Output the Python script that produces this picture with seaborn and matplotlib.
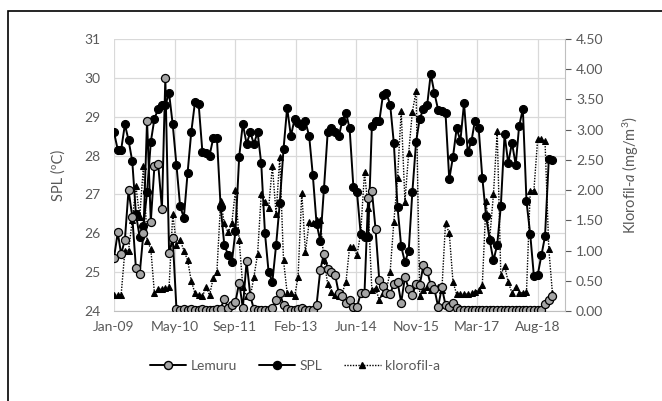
import matplotlib
matplotlib.use("Agg")
import matplotlib.pyplot as plt
import matplotlib.dates as mdates
from matplotlib.lines import Line2D
from matplotlib.patches import Rectangle
import pandas as pd
import seaborn as sns

# monthly observations, Jan 2009 - Dec 2018
months = pd.date_range("2009-01-01", periods=120, freq="MS")

spl = [28.6, 28.15, 28.15, 28.8, 28.4, 27.85, 26.5, 25.9, 26.2, 27.05,
       28.35, 28.95, 29.2, 29.3, 29.3, 29.6, 28.8, 27.75, 26.7, 26.4,
       27.56, 28.6, 29.38, 29.33, 28.1, 28.07, 28.0, 28.45, 28.45, 26.67,
       25.7, 25.45, 25.25, 26.05, 27.97, 28.82, 28.3, 28.6, 28.3, 28.6,
       27.8, 26.0, 25.0, 24.75, 25.7, 26.77, 28.16, 29.23, 28.5, 28.95,
       28.84, 28.75, 28.88, 28.5, 27.5, 26.25, 25.8, 27.14, 28.6, 28.72,
       28.6, 28.5, 28.88, 29.1, 28.7, 27.2, 27.05, 25.97, 25.9, 25.9,
       28.77, 28.88, 28.88, 29.57, 29.6, 29.31, 28.33, 26.67, 25.66, 25.26,
       25.54, 27.05, 28.35, 28.95, 29.2, 29.31, 30.1, 29.6, 29.18, 29.14,
       29.1, 27.39, 27.97, 28.7, 28.38, 29.35, 28.08, 28.38, 28.9, 28.7,
       27.43, 26.45, 25.82, 25.3, 25.7, 26.7, 28.55, 27.8, 28.33, 27.76,
       28.76, 29.2, 26.82, 25.97, 24.9, 24.92, 25.43, 25.92, 27.9, 27.88]

klorofil = [0.27, 0.27, 0.27, 1.0, 1.0, 1.5, 2.07, 1.55, 2.4, 1.16,
            1.03, 0.29, 0.36, 0.36, 0.38, 0.4, 1.6, 1.1, 1.18, 1.0,
            0.84, 0.5, 0.29, 0.26, 0.24, 0.4, 0.26, 0.55, 0.65, 1.82,
            1.45, 1.3, 1.45, 2.0, 1.17, 0.4, 0.24, 0.24, 0.56, 0.94,
            1.93, 1.8, 1.7, 2.4, 1.6, 2.55, 0.84, 0.3, 0.3, 0.25,
            0.56, 1.96, 0.97, 1.47, 1.45, 1.5, 1.5, 0.84, 0.45, 0.32,
            0.26, 0.24, 0.3, 0.48, 1.06, 1.06, 0.92, 1.3, 2.3, 1.7,
            0.34, 0.38, 0.18, 0.3, 0.35, 0.65, 1.47, 2.2, 3.31, 1.81,
            2.62, 3.29, 3.64, 0.24, 0.35, 0.4, 0.35, 0.38, 0.4, 0.35,
            1.45, 1.29, 0.48, 0.28, 0.28, 0.28, 0.28, 0.29, 0.32, 0.35,
            0.43, 1.82, 1.2, 1.93, 2.97, 0.59, 0.75, 0.48, 0.3, 0.4,
            0.3, 0.3, 0.32, 1.99, 1.99, 2.84, 2.84, 2.81, 1.03, 0.3]

lemuru = [0.88, 1.3, 0.94, 1.18, 2.0, 1.56, 0.71, 0.61, 1.29, 3.15,
          1.48, 2.4, 2.43, 1.69, 3.86, 0.96, 1.2, 0.03, 0.01, 0.04,
          0.02, 0.03, 0.02, 0.02, 0.03, 0.02, 0.02, 0.02, 0.03, 0.04,
          0.2, 0.05, 0.1, 0.15, 0.47, 0.05, 0.82, 0.25, 0.03, 0.02,
          0.02, 0.02, 0.02, 0.05, 0.18, 0.3, 0.1, 0.03, 0.02, 0.02,
          0.03, 0.05, 0.02, 0.02, 0.02, 0.1, 0.68, 0.95, 0.7, 0.65,
          0.6, 0.29, 0.24, 0.13, 0.18, 0.07, 0.07, 0.29, 0.3, 1.87,
          1.99, 1.36, 0.51, 0.41, 0.3, 0.28, 0.45, 0.48, 0.14, 0.56,
          0.37, 0.26, 0.45, 0.43, 0.76, 0.66, 0.43, 0.36, 0.07, 0.39,
          0.1, 0.06, 0.13, 0.05, 0.02, 0.02, 0.02, 0.02, 0.02, 0.02,
          0.02, 0.02, 0.02, 0.02, 0.02, 0.02, 0.02, 0.02, 0.02, 0.02,
          0.02, 0.02, 0.02, 0.02, 0.02, 0.02, 0.02, 0.12, 0.18, 0.25]

left_ticks = [24, 25, 26, 27, 28, 29, 30, 31]
right_ticks = [0, 0.5, 1.0, 1.5, 2.0, 2.5, 3.0, 3.5, 4.0, 4.5]

sns.set_style("white")
plt.rcParams["font.family"] = ["Lato", "DejaVu Sans"]
plt.rcParams["mathtext.fontset"] = "custom"
plt.rcParams["mathtext.rm"] = "Lato"
plt.rcParams["mathtext.it"] = "Lato:italic"

txt = "#595959"
grid = "#D9D9D9"

fig = plt.figure(figsize=(6.62, 4.01), dpi=100)
ax = fig.add_axes([114 / 662, 1 - 311 / 401, 451 / 662, 272 / 401])
ax2 = ax.twinx()

sns.lineplot(x=months, y=spl, ax=ax, color="black", lw=1.4,
             marker="o", markersize=5.8, markerfacecolor="black",
             markeredgecolor="black", zorder=3)
sns.lineplot(x=months, y=klorofil, ax=ax2, color="black", lw=1.0,
             linestyle=(0, (1, 1)), marker="^", markersize=4,
             markerfacecolor="black", markeredgecolor="black", zorder=3)
sns.lineplot(x=months, y=lemuru, ax=ax2, color="black", lw=1.4,
             marker="o", markersize=5.8, markerfacecolor="#A5A5A5",
             markeredgecolor="black", markeredgewidth=0.9, zorder=4)

start = pd.Timestamp("2009-01-01")
xticks = [start + pd.Timedelta(days=500 * k) for k in range(8)]
ax.set_xlim(start, start + pd.Timedelta(days=3725))
ax.set_xticks(xticks)
ax.xaxis.set_major_formatter(mdates.DateFormatter("%b-%y"))

ax.set_ylim(24, 31)
ax.set_yticks(left_ticks)
ax2.set_ylim(0, 4.5)
ax2.set_yticks(right_ticks)
ax2.set_yticklabels([f"{v:.2f}" for v in right_ticks])

ax.grid(True, color=grid, lw=0.9)
ax.set_axisbelow(True)
for a in (ax, ax2):
    for s in a.spines.values():
        s.set_visible(False)
ax2.spines["right"].set_visible(True)
ax2.spines["right"].set_color("#BFBFBF")
ax.spines["bottom"].set_visible(True)
ax.spines["bottom"].set_color("#BFBFBF")

ax.tick_params(axis="x", colors=txt, labelsize=10, length=0, pad=7)
ax.tick_params(axis="y", colors=txt, labelsize=10, length=0, pad=10)
ax2.tick_params(axis="y", colors=txt, labelsize=10, length=4, width=0.8,
                pad=4)
for t in ax2.yaxis.get_ticklines():
    t.set_color("#BFBFBF")

ax.set_xlabel("")
ax.set_ylabel("SPL (ºC)", color=txt, fontsize=10.5)
ax.yaxis.set_label_coords(-0.108, 0.5)
ax2.set_ylabel(r"Klorofil-$\mathit{a}$ (mg/m$^3$)", color=txt, fontsize=10.5,
               rotation=90)
ax2.yaxis.set_label_coords(1.123, 0.5)

handles = [
    Line2D([], [], color="black", lw=1.4, marker="o", markersize=5.8,
           markerfacecolor="#A5A5A5", markeredgecolor="black"),
    Line2D([], [], color="black", lw=1.4, marker="o", markersize=5.8,
           markerfacecolor="black"),
    Line2D([], [], color="black", lw=1.0, linestyle=(0, (1, 1)), marker="^",
           markersize=4, markerfacecolor="black"),
]
leg = fig.legend(handles, ["Lemuru", "SPL", "klorofil-a"], loc="center",
                 bbox_to_anchor=(295 / 662, 1 - 366 / 401), ncol=3,
                 frameon=False, fontsize=10, handlelength=2.6,
                 handletextpad=0.3, columnspacing=1.6)
for t in leg.get_texts():
    t.set_color(txt)

fig.patches.append(Rectangle((8 / 662, -0.1), 1.2, 1.1 - 11 / 401,
                             transform=fig.transFigure, fill=False,
                             edgecolor="black", lw=1.2))

fig.savefig("out.png", dpi=100)
